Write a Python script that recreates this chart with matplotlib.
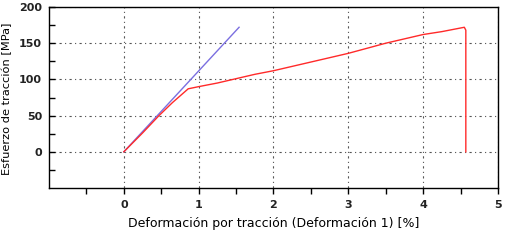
import matplotlib
matplotlib.use("Agg")
import matplotlib.pyplot as plt

# curva de la probeta (rojo) y recta de modulo (azul)
strain_red = [0.0, 0.25, 0.47, 0.65, 0.86, 1.0, 1.25, 1.5, 1.75, 2.0, 2.25, 2.5,
              2.75, 3.0, 3.25, 3.5, 3.75, 4.0, 4.25, 4.5, 4.55, 4.57, 4.57]
stress_red = [0.0, 26, 50, 68, 87, 90, 95, 101, 107, 112, 118, 124,
              130, 136, 143, 150, 156, 162, 166, 171, 172, 168, 0.0]

strain_blue = [0.0, 1.54]
stress_blue = [0.0, 172]

x_major = [0, 1, 2, 3, 4, 5]
x_minor = [-0.5, 0.5, 1.5, 2.5, 3.5, 4.5]
y_major = [0, 50, 100, 150, 200]
y_minor = [-25, 25, 75, 125, 175]

plt.rcParams['font.size'] = 9

fig = plt.figure(figsize=(5.07, 2.41), dpi=100)
ax = fig.add_axes([49 / 507, 53 / 241, 449 / 507, 181 / 241])

ax.plot(strain_blue, stress_blue, color='#7b6fe0', lw=1.0, zorder=3)
ax.plot(strain_red, stress_red, color='#ff2a2a', lw=1.0, zorder=4)

ax.set_xlim(-1, 5)
ax.set_ylim(-50, 200)
ax.set_xticks(x_major)
ax.set_xticks(x_minor, minor=True)
ax.set_yticks(y_major)
ax.set_yticks(y_minor, minor=True)

ax.grid(True, which='major', color='#555555', linestyle=(0, (2, 3, 1, 3)), linewidth=0.8)
ax.tick_params(axis='x', which='both', direction='out', length=4, width=1, labelsize=8, pad=5)
ax.tick_params(axis='y', which='both', direction='in', length=4, width=1, labelsize=8, pad=5)
for lab in ax.get_xticklabels() + ax.get_yticklabels():
    lab.set_fontweight('bold')
    lab.set_color('#222222')

for s in ax.spines.values():
    s.set_linewidth(1.0)

ax.set_xlabel('Deformación por tracción (Deformación 1) [%]', labelpad=5)
ax.set_ylabel('Esfuerzo de tracción [MPa]', fontsize=8.2)
ax.yaxis.set_label_coords(-37 / 449, 0.49)

fig.savefig('out.png', dpi=100)
